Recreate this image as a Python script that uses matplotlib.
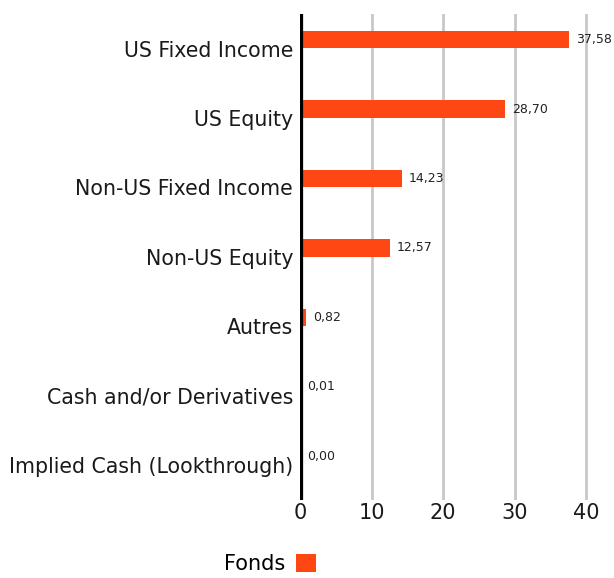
import matplotlib.pyplot as plt
import numpy as np

## Données
categories = ['US Fixed Income', 'US Equity', 'Non-US Fixed Income', 'Non-US Equity',
              'Autres', 'Cash and/or Derivatives', 'Implied Cash (Lookthrough)']
fonds = [37.58, 28.70, 14.23, 12.57, 0.82, 0.01, 0.00]
labels_valeurs = ['37,58', '28,70', '14,23', '12,57', '0,82', '0,01', '0,00']
xticks = [0, 10, 20, 30, 40]

orange = '#FF4713'

fig = plt.figure(figsize=(6.14, 5.78), dpi=100)
ax = fig.add_axes([0.4886, 0.135, 0.5114, 0.841])

y = np.arange(len(categories))
decalage = 0.13
ax.barh(y - decalage, fonds, height=0.25, color=orange, label='Fonds', zorder=3)

for yi, v, txt in zip(y, fonds, labels_valeurs):
    ax.text(v + 1.0, yi - decalage, txt, va='center', ha='left', fontsize=9, color='#222222')

ax.set_xlim(0, 43.9)
ax.set_ylim(len(categories) - 0.5, -0.5)
ax.set_yticks(y)
ax.set_yticklabels(categories, fontsize=14.8, color='#1a1a1a')
ax.set_xticks(xticks)
ax.set_xticklabels([str(t) for t in xticks], fontsize=15, color='#1a1a1a')
ax.tick_params(axis='both', length=0)
ax.tick_params(axis='y', pad=5)
ax.tick_params(axis='x', pad=2)

for t in xticks[1:]:
    ax.axvline(t, color='#c8c8c8', lw=2, zorder=1)
ax.axvline(0, color='black', lw=4.5, zorder=4)

for s in ax.spines.values():
    s.set_visible(False)

fig.legend(loc='center', bbox_to_anchor=(0.44, 0.024), frameon=False, markerfirst=False,
           fontsize=15, handlelength=0.95, handleheight=0.95, handletextpad=0.5)

fig.savefig('out.png', dpi=100)
